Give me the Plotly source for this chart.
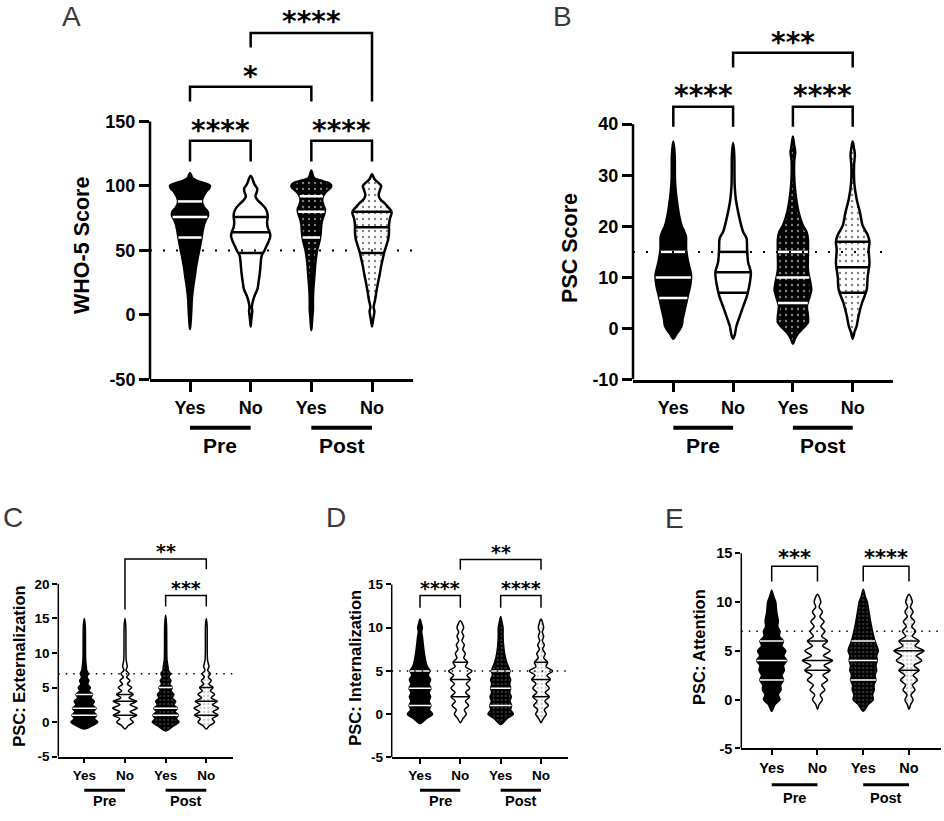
import numpy as np
import plotly.graph_objects as go

W, H = 944, 821

CATEGORIES = ["Yes", "No", "Yes", "No"]
GROUPS = ["Pre", "Post"]

# violin outlines: (score, relative half-width)
A_PRE_YES = [(110, 0), (108, 0.06), (106, 0.12), (104, 0.35), (102, 0.75), (100, 1.0), (98, 0.95),
             (96, 0.82), (93, 0.7), (89, 0.6), (86, 0.62), (83, 0.72), (80, 0.88), (77, 0.9),
             (74, 0.8), (70, 0.7), (65, 0.63), (60, 0.58), (55, 0.52), (50, 0.46), (44, 0.38),
             (37, 0.3), (30, 0.24), (24, 0.18), (18, 0.13), (12, 0.09), (5, 0.07), (-1, 0.05),
             (-6, 0.03), (-11, 0)]
A_PRE_NO = [(108, 0), (106, 0.08), (104, 0.12), (101, 0.2), (98, 0.33), (95, 0.3), (92, 0.24),
            (89, 0.35), (86, 0.55), (83, 0.72), (80, 0.82), (76, 0.85), (72, 0.82), (68, 0.85),
            (64, 0.95), (61, 0.98), (57, 0.9), (53, 0.78), (49, 0.66), (46, 0.55), (40, 0.5),
            (33, 0.46), (26, 0.4), (20, 0.34), (15, 0.2), (10, 0.1), (6, 0.06), (3, 0.08),
            (0, 0.06), (-4, 0.03), (-9, 0)]
A_POST_YES = [(112, 0), (109, 0.06), (106, 0.14), (104, 0.5), (102, 0.9), (100, 1.0), (98, 0.92),
              (95, 0.7), (92, 0.58), (89, 0.54), (85, 0.6), (82, 0.68), (78, 0.64), (74, 0.55),
              (70, 0.5), (64, 0.47), (58, 0.42), (51, 0.3), (45, 0.24), (40, 0.2), (34, 0.17),
              (28, 0.14), (20, 0.1), (12, 0.08), (4, 0.08), (0, 0.06), (-6, 0.03), (-12, 0)]
A_POST_NO = [(109, 0), (107, 0.07), (105, 0.14), (102, 0.35), (100, 0.46), (97, 0.4), (93, 0.33),
             (90, 0.4), (87, 0.6), (84, 0.78), (81, 0.95), (79, 0.98), (75, 0.9), (70, 0.85),
             (64, 0.85), (58, 0.8), (53, 0.7), (49, 0.62), (43, 0.53), (38, 0.46), (31, 0.38),
             (25, 0.3), (18, 0.22), (12, 0.16), (6, 0.08), (3, 0.12), (0, 0.1), (-4, 0.05), (-9, 0)]

B_PRE_YES = [(36.6, 0), (34, 0.07), (30, 0.08), (28, 0.1), (25.3, 0.17), (22, 0.3), (20, 0.43),
             (19, 0.55), (18, 0.64), (15.5, 0.65), (13, 0.75), (10.5, 0.9), (8.5, 0.86),
             (6.5, 0.74), (4, 0.6), (2, 0.48), (0.5, 0.42), (-0.2, 0.32), (-1, 0.17), (-2, 0)]
B_PRE_NO = [(36.3, 0), (34, 0.06), (30, 0.07), (28, 0.08), (25.3, 0.14), (22, 0.3), (19, 0.5),
            (17.7, 0.68), (15.5, 0.71), (13, 0.76), (11, 0.9), (9, 0.85), (6.5, 0.71), (4, 0.48),
            (2, 0.3), (0.5, 0.17), (-0.5, 0.12), (-1.3, 0.08), (-2, 0)]
B_POST_YES = [(37.6, 0), (36, 0.06), (34.5, 0.12), (33, 0.07), (28.5, 0.08), (25.3, 0.17),
              (22.7, 0.29), (20.2, 0.5), (19, 0.68), (17.5, 0.76), (14, 0.76), (11.5, 0.76),
              (9, 0.88), (7.6, 0.93), (6.3, 0.85), (4.4, 0.71), (2.5, 0.76), (1.2, 0.76),
              (0, 0.5), (-1, 0.25), (-2, 0.1), (-3, 0)]
B_POST_NO = [(36.6, 0), (35.5, 0.06), (34, 0.11), (32, 0.07), (28.5, 0.08), (25.3, 0.2),
             (22.7, 0.37), (20.2, 0.5), (18.3, 0.76), (17, 0.85), (15.4, 0.81), (12.8, 0.85),
             (10.2, 0.76), (7.6, 0.71), (5, 0.47), (2.5, 0.3), (0.5, 0.2), (-0.7, 0.09), (-2, 0)]

C_PRE_YES = [(15, 0), (14, 0.07), (9, 0.1), (8, 0.15), (7.5, 0.18), (7, 0.3), (6.5, 0.2), (6, 0.35),
             (5.5, 0.25), (5, 0.45), (4.5, 0.35), (4, 0.62), (3.5, 0.5), (3, 0.75), (2.5, 0.62),
             (2, 0.88), (1.5, 0.7), (1, 0.92), (0.5, 0.75), (0, 1.0), (-0.5, 0.62), (-1, 0)]
C_PRE_NO = [(15, 0), (14, 0.06), (9, 0.09), (8, 0.17), (7.5, 0.08), (7, 0.3), (6.5, 0.12), (6, 0.37),
            (5.5, 0.18), (5, 0.5), (4.5, 0.25), (4, 0.62), (3.5, 0.3), (3, 0.87), (2.5, 0.38),
            (2, 0.92), (1.5, 0.38), (1, 0.87), (0.5, 0.38), (0, 0.62), (-0.5, 0.25), (-1, 0)]
C_POST_YES = [(15.5, 0), (14, 0.07), (9, 0.1), (8, 0.18), (7.5, 0.2), (7, 0.35), (6.5, 0.25),
              (6, 0.4), (5.5, 0.3), (5, 0.5), (4.5, 0.4), (4, 0.62), (3.5, 0.5), (3, 0.75),
              (2.5, 0.62), (2, 0.88), (1.5, 0.7), (1, 0.95), (0.5, 0.8), (0, 1.0), (-0.5, 0.62),
              (-1.3, 0)]
C_POST_NO = [(15, 0), (14, 0.06), (9, 0.09), (8, 0.2), (7.5, 0.1), (7, 0.3), (6.5, 0.15), (6, 0.37),
             (5.5, 0.2), (5, 0.5), (4.5, 0.3), (4, 0.62), (3.5, 0.35), (3, 0.82), (2.5, 0.45),
             (2, 0.92), (1.5, 0.5), (1, 0.87), (0.5, 0.45), (0, 0.62), (-0.5, 0.25), (-1, 0)]

D_PRE_YES = [(11, 0), (10.5, 0.1), (10, 0.18), (9.5, 0.12), (9, 0.18), (8, 0.25), (7, 0.33),
             (6, 0.45), (5.5, 0.55), (5, 0.75), (4.5, 0.62), (4, 0.8), (3.5, 0.68), (3, 0.82),
             (2.5, 0.68), (2, 0.8), (1.5, 0.68), (1, 0.82), (0.5, 0.7), (0, 0.95), (-0.5, 0.5),
             (-1.1, 0)]
D_PRE_NO = [(10.8, 0), (10, 0.25), (9.5, 0.12), (9, 0.25), (8.5, 0.12), (8, 0.3), (7.5, 0.18),
            (7, 0.38), (6.5, 0.25), (6, 0.55), (5.5, 0.38), (5, 0.88), (4.5, 0.5), (4, 0.75),
            (3.5, 0.45), (3, 0.7), (2.5, 0.4), (2, 0.7), (1.5, 0.38), (1, 0.62), (0.5, 0.3),
            (0, 0.45), (-0.5, 0.2), (-1, 0)]
D_POST_YES = [(11.3, 0), (10.5, 0.12), (10, 0.18), (9, 0.18), (8, 0.22), (7, 0.3), (6, 0.45),
              (5, 0.7), (4.5, 0.62), (4, 0.75), (3.5, 0.68), (3, 0.75), (2.5, 0.68), (2, 0.8),
              (1.5, 0.7), (1, 0.82), (0.5, 0.75), (0, 0.95), (-0.5, 0.5), (-1.2, 0)]
D_POST_NO = [(11, 0), (10, 0.2), (9.5, 0.1), (9, 0.2), (8.5, 0.1), (8, 0.25), (7.5, 0.12),
             (7, 0.32), (6.5, 0.2), (6, 0.5), (5.5, 0.38), (5, 0.88), (4.5, 0.45), (4, 0.7),
             (3.5, 0.38), (3, 0.62), (2.5, 0.32), (2, 0.62), (1.5, 0.3), (1, 0.55), (0.5, 0.25),
             (0, 0.4), (-0.5, 0.18), (-1, 0)]

E_PRE_YES = [(11.2, 0), (10.5, 0.15), (10, 0.27), (9, 0.33), (8, 0.44), (7.5, 0.4), (7, 0.55),
             (6.5, 0.51), (6, 0.78), (5.5, 0.67), (5, 0.93), (4.5, 0.8), (4, 1.0), (3.5, 0.78),
             (3, 0.84), (2.5, 0.67), (2, 0.78), (1.5, 0.6), (1, 0.62), (0.5, 0.44), (0, 0.55),
             (-0.5, 0.22), (-1.2, 0)]
E_PRE_NO = [(10.8, 0), (10, 0.22), (9.5, 0.11), (9, 0.33), (8.5, 0.16), (8, 0.44), (7.5, 0.22),
            (7, 0.49), (6.5, 0.27), (6, 0.67), (5.5, 0.33), (5, 0.84), (4.5, 0.4), (4, 1.0),
            (3.5, 0.44), (3, 0.84), (2.5, 0.36), (2, 0.67), (1.5, 0.27), (1, 0.49), (0.5, 0.18),
            (0, 0.33), (-0.5, 0.11), (-1, 0)]
E_POST_YES = [(11.3, 0), (10.5, 0.15), (10, 0.27), (9, 0.38), (8, 0.49), (7, 0.62), (6, 0.78),
              (5, 1.0), (4.5, 0.89), (4, 0.93), (3.5, 0.84), (3, 0.89), (2.5, 0.78), (2, 0.84),
              (1.5, 0.71), (1, 0.73), (0.5, 0.62), (0, 0.67), (-0.5, 0.33), (-1.2, 0)]
E_POST_NO = [(10.8, 0), (10, 0.22), (9.5, 0.09), (9, 0.27), (8.5, 0.11), (8, 0.38), (7.5, 0.18),
             (7, 0.44), (6.5, 0.22), (6, 0.67), (5.5, 0.4), (5, 1.0), (4.5, 0.49), (4, 0.84),
             (3.5, 0.33), (3, 0.67), (2.5, 0.27), (2, 0.56), (1.5, 0.22), (1, 0.4), (0.5, 0.13),
             (0, 0.27), (-0.5, 0.11), (-1, 0)]

# quartiles (Q1, median, Q3) per violin
A_QUARTILES = [[60, 76, 88], [48, 64, 76], [60, 80, 92], [48, 68, 80]]
B_QUARTILES = [[6, 10, 15], [7, 11, 15], [5, 10, 15], [7, 12, 17]]
C_QUARTILES = [[1, 2, 4], [1, 3, 4], [1, 2, 5], [1, 3, 5]]
D_QUARTILES = [[1, 3, 5], [2, 4, 6], [1, 3, 5], [2, 4, 6]]
E_QUARTILES = [[2, 4, 6], [3, 4, 6], [2, 4, 6], [3, 5, 6]]

# comparisons: (left, right, bar height, left foot, right foot, stars, stars height)
A_BRACKETS = [(0, 1, 135, 119, 119, "****", 147.7), (2, 3, 135, 119, 119, "****", 147.7),
              (0, 2, 177, 165.6, 165.6, "*", 190), (1, 3, 218.7, 207.5, 165.6, "****", 232)]
B_BRACKETS = [(0, 1, 43.4, 39.5, 39.5, "****", 46.8), (2, 3, 43.4, 39.5, 39.5, "****", 46.8),
              (1, 3, 54, 51.1, 51.1, "***", 57.2)]
C_BRACKETS = [(1, 3, 23.6, 16.3, 22.1, "**", 25.3), (2, 3, 18.3, 16.7, 16.7, "***", 20)]
D_BRACKETS = [(0, 1, 13.74, 12.3, 12.3, "****", 15.1), (2, 3, 13.74, 12.3, 12.3, "****", 15.1),
              (1, 3, 17.9, 16.7, 16.7, "**", 19.3)]
E_BRACKETS = [(0, 1, 13.65, 12.1, 12.1, "***", 15), (2, 3, 13.65, 12.1, 12.1, "****", 15)]

A_YTICKS = [-50, 0, 50, 100, 150]
B_YTICKS = [-10, 0, 10, 20, 30, 40]
C_YTICKS = [-5, 0, 5, 10, 15, 20]
D_YTICKS = [-5, 0, 5, 10, 15]
E_YTICKS = [-5, 0, 5, 10, 15]

BIG = dict(tick=18, group=21, title=21.5, star=28, line=2.5, ticklen=10, bar=4, pat=6,
           quart=2.5, dot="2px,11px", dotw=2, outline=2.5)
SMALL = dict(tick=13.5, group=14.5, title=16.5, star=19, line=1.5, ticklen=5, bar=3, pat=4,
             quart=1.5, dot="1.5px,6px", dotw=1.5, outline=1.5)

# positions below are pixels of the reference picture
PANELS = [
    dict(letter="A", letter_xy=(71, 16.5), title="WHO-5 Score", title_xy=(82, 249),
         violins=[A_PRE_YES, A_PRE_NO, A_POST_YES, A_POST_NO], quart=A_QUARTILES,
         brackets=A_BRACKETS, yticks=A_YTICKS, ref=50, style=BIG,
         xpx=(150, 413), cpx=(190, 372), ycal=((-50, 384), (150, 123)), ptop=0,
         bar_y=433, group_y=451),
    dict(letter="B", letter_xy=(562, 16.5), title="PSC Score", title_xy=(570, 251),
         violins=[B_PRE_YES, B_PRE_NO, B_POST_YES, B_POST_NO], quart=B_QUARTILES,
         brackets=B_BRACKETS, yticks=B_YTICKS, ref=15, style=BIG,
         xpx=(633, 893), cpx=(673.3, 852.7), ycal=((-10, 384.3), (40, 125.7)), ptop=0,
         bar_y=433, group_y=451),
    dict(letter="C", letter_xy=(13, 524), title="PSC: Externalization", title_xy=(19, 675),
         violins=[C_PRE_YES, C_PRE_NO, C_POST_YES, C_POST_NO], quart=C_QUARTILES,
         brackets=C_BRACKETS, yticks=C_YTICKS, ref=7, style=SMALL,
         xpx=(58.3, 233), cpx=(84.3, 206.3), ycal=((-5, 766), (20, 591)), ptop=500,
         bar_y=800, group_y=811),
    dict(letter="D", letter_xy=(336, 524), title="PSC: Internalization", title_xy=(355, 676),
         violins=[D_PRE_YES, D_PRE_NO, D_POST_YES, D_POST_NO], quart=D_QUARTILES,
         brackets=D_BRACKETS, yticks=D_YTICKS, ref=5, style=SMALL,
         xpx=(391.7, 568.3), cpx=(420, 541), ycal=((-5, 766.7), (15, 591.7)), ptop=500,
         bar_y=800, group_y=811),
    dict(letter="E", letter_xy=(674, 525), title="PSC: Attention", title_xy=(699, 655),
         violins=[E_PRE_YES, E_PRE_NO, E_POST_YES, E_POST_NO], quart=E_QUARTILES,
         brackets=E_BRACKETS, yticks=E_YTICKS, ref=7, style=dict(SMALL, tick=14.5, star=21),
         xpx=(741.3, 940.7), cpx=(771.7, 909), ycal=((-5, 757.7), (15, 560)), ptop=500,
         bar_y=794.3, group_y=808),
]

# fill, dot pattern colour, quartile line colour for Pre-Yes, Pre-No, Post-Yes, Post-No
LOOKS = [("black", None, "white"), ("white", None, "black"),
         ("black", "white", "white"), ("white", "black", "black")]

FONT = "Liberation Sans, Arial, sans-serif"
STAR_FONT = "DejaVu Sans, sans-serif"
HALF = 0.33


def px(p):
    return p / W


def py(p):
    return 1 - p / H


fig = go.Figure()

for k, pn in enumerate(PANELS, start=1):
    st = pn["style"]
    xa = "x" if k == 1 else f"x{k}"
    ya = "y" if k == 1 else f"y{k}"

    x_left, x_right = pn["xpx"]
    c0, c3 = pn["cpx"]
    sp = (c3 - c0) / 3
    xr = [-(c0 - x_left) / sp, 3 + (x_right - c3) / sp]
    (vlo, plo), (vhi, phi) = pn["ycal"]
    ytop = vlo + (vhi - vlo) * (plo - pn["ptop"]) / (plo - phi)

    fig.update_layout(**{
        ("xaxis" if k == 1 else f"xaxis{k}"): dict(
            domain=[px(x_left), px(x_right)], range=xr, anchor=ya,
            tickmode="array", tickvals=[0, 1, 2, 3], ticktext=CATEGORIES,
            ticks="outside", ticklen=st["ticklen"], tickwidth=st["line"], tickcolor="black",
            showline=True, linewidth=st["line"], linecolor="black",
            showgrid=False, zeroline=False,
            tickfont=dict(family=FONT, size=st["tick"], color="black", weight="bold")),
        ("yaxis" if k == 1 else f"yaxis{k}"): dict(
            domain=[py(plo), py(pn["ptop"])], range=[vlo, ytop], anchor=xa,
            tickmode="array", tickvals=pn["yticks"], ticktext=[str(v) for v in pn["yticks"]],
            ticks="outside", ticklen=st["ticklen"], tickwidth=st["line"], tickcolor="black",
            showline=False, showgrid=False, zeroline=False,
            tickfont=dict(family=FONT, size=st["tick"], color="black", weight="bold")),
    })

    # y axis line only up to the top tick
    fig.add_shape(type="line", xref=f"{xa} domain", yref=ya, x0=0, x1=0,
                  y0=pn["yticks"][0], y1=pn["yticks"][-1],
                  line=dict(color="black", width=st["line"]))

    # violins
    for i, prof in enumerate(pn["violins"]):
        fill, dots, qcol = LOOKS[i]
        prof_sorted = sorted(prof)
        vals = np.array([p[0] for p in prof_sorted], dtype=float)
        rel = np.array([p[1] for p in prof_sorted], dtype=float)
        xs = np.concatenate([i + rel * HALF, (i - rel * HALF)[::-1][1:]])
        ys = np.concatenate([vals, vals[::-1][1:]])
        tr = dict(x=xs, y=ys, xaxis=xa, yaxis=ya, mode="lines", fill="toself",
                  fillcolor=fill, line=dict(color="black", width=st["outline"],
                                            shape="spline", smoothing=0.8),
                  hoverinfo="skip", showlegend=False)
        if dots:
            tr["fillpattern"] = dict(shape=".", bgcolor=fill, fgcolor=dots,
                                     size=st["pat"], solidity=0.12)
        fig.add_trace(go.Scatter(**tr))

        for q in pn["quart"][i]:
            hw = np.interp(q, vals, rel) * HALF
            fig.add_trace(go.Scatter(x=[i - hw, i + hw], y=[q, q], xaxis=xa, yaxis=ya,
                                     mode="lines", line=dict(color=qcol, width=st["quart"]),
                                     hoverinfo="skip", showlegend=False))

    # dotted cut-off line
    fig.add_shape(type="line", xref=f"{xa} domain", yref=ya, x0=0, x1=1,
                  y0=pn["ref"], y1=pn["ref"],
                  line=dict(color="black", width=st["dotw"], dash=st["dot"]))

    # significance brackets
    for l, r, ybar, yl, yr, stars, ys in pn["brackets"]:
        fig.add_trace(go.Scatter(x=[l, l, r, r], y=[yl, ybar, ybar, yr], xaxis=xa, yaxis=ya,
                                 mode="lines", line=dict(color="black", width=st["line"]),
                                 hoverinfo="skip", showlegend=False))
        fig.add_annotation(x=(l + r) / 2, y=ys, xref=xa, yref=ya, text=stars,
                           showarrow=False, yshift=-0.22 * st["star"], borderpad=0,
                           font=dict(family=STAR_FONT, size=st["star"], color="black",
                                     weight="bold"))

    # Pre / Post group bars under the category labels
    for g, name in enumerate(GROUPS):
        fig.add_shape(type="line", xref=xa, yref="paper", x0=2 * g, x1=2 * g + 1,
                      y0=py(pn["bar_y"]), y1=py(pn["bar_y"]),
                      line=dict(color="black", width=st["bar"]))
        fig.add_annotation(x=2 * g + 0.5, y=py(pn["group_y"]), xref=xa, yref="paper",
                           text=name, showarrow=False, yanchor="middle", borderpad=0,
                           font=dict(family=FONT, size=st["group"], color="black",
                                     weight="bold"))

    # axis title and panel letter
    tx, ty = pn["title_xy"]
    fig.add_annotation(x=px(tx), y=py(ty), xref="paper", yref="paper", text=pn["title"],
                       textangle=-90, showarrow=False, xanchor="center", yanchor="middle",
                       font=dict(family=FONT, size=st["title"], color="black", weight="bold"))
    lx, ly = pn["letter_xy"]
    fig.add_annotation(x=px(lx), y=py(ly), xref="paper", yref="paper", text=pn["letter"],
                       showarrow=False, xanchor="center", yanchor="middle", borderpad=0,
                       font=dict(family=FONT, size=28, color="#3a3a3a"))

fig.update_layout(
    width=W, height=H, autosize=False,
    margin=dict(l=0, r=0, t=0, b=0),
    plot_bgcolor="white", paper_bgcolor="white",
    showlegend=False,
)

# drop the default page margin so the figure fills the window
fig.write_html("out.html", config={"displayModeBar": False},
               post_script="document.body.style.margin='0';document.body.style.overflow='hidden';")
